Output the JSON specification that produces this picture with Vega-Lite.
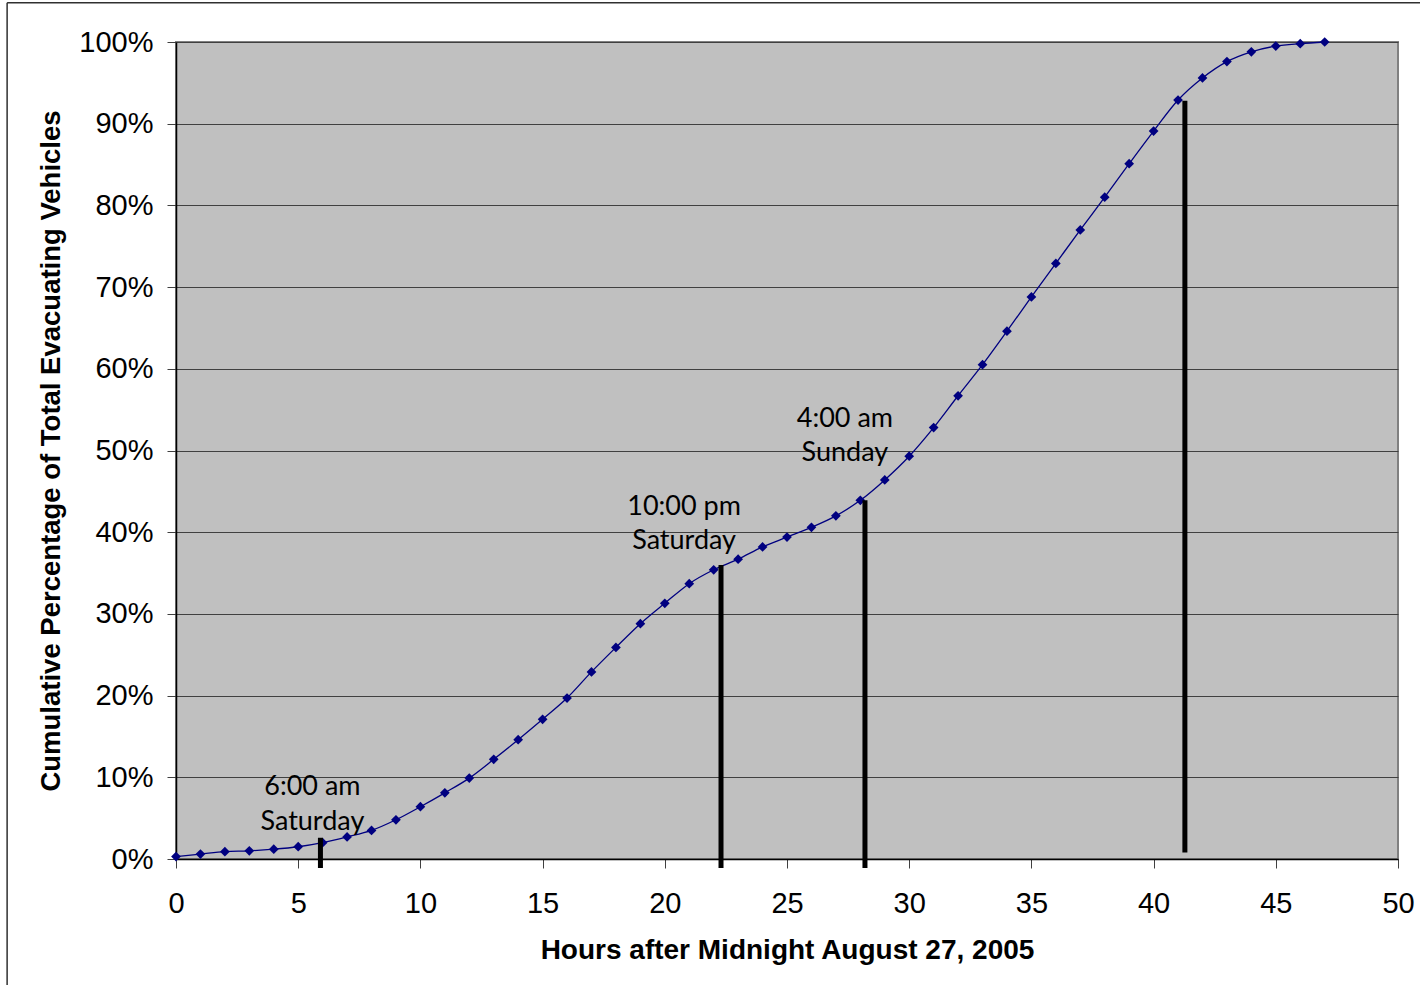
{
  "$schema": "https://vega.github.io/schema/vega-lite/v6.json",
  "autosize": "none",
  "width": 1222,
  "height": 817,
  "padding": {"left": 176, "top": 42, "right": 22, "bottom": 126},
  "background": "white",
  "config": {
    "view": {"fill": "#C0C0C0", "stroke": "#808080", "strokeWidth": 2},
    "axis": {
      "labelFont": "Liberation Sans",
      "titleFont": "Liberation Sans",
      "labelFontSize": 29,
      "titleFontSize": 28,
      "titleFontWeight": "bold",
      "labelColor": "black",
      "titleColor": "black",
      "domainColor": "black",
      "domainWidth": 1.5,
      "tickColor": "#404040",
      "tickWidth": 1,
      "tickSize": 9
    }
  },
  "datasets": {
    "evac": [
      {"hour": 0, "share": 0.003}, {"hour": 1, "share": 0.006}, {"hour": 2, "share": 0.009},
      {"hour": 3, "share": 0.010}, {"hour": 4, "share": 0.012}, {"hour": 5, "share": 0.015},
      {"hour": 6, "share": 0.020}, {"hour": 7, "share": 0.027}, {"hour": 8, "share": 0.035},
      {"hour": 9, "share": 0.048}, {"hour": 10, "share": 0.064}, {"hour": 11, "share": 0.081},
      {"hour": 12, "share": 0.099}, {"hour": 13, "share": 0.122}, {"hour": 14, "share": 0.146},
      {"hour": 15, "share": 0.171}, {"hour": 16, "share": 0.197}, {"hour": 17, "share": 0.229},
      {"hour": 18, "share": 0.259}, {"hour": 19, "share": 0.288}, {"hour": 20, "share": 0.313},
      {"hour": 21, "share": 0.337}, {"hour": 22, "share": 0.354}, {"hour": 23, "share": 0.367},
      {"hour": 24, "share": 0.382}, {"hour": 25, "share": 0.394}, {"hour": 26, "share": 0.406},
      {"hour": 27, "share": 0.420}, {"hour": 28, "share": 0.439}, {"hour": 29, "share": 0.464},
      {"hour": 30, "share": 0.493}, {"hour": 31, "share": 0.528}, {"hour": 32, "share": 0.567},
      {"hour": 33, "share": 0.605}, {"hour": 34, "share": 0.646}, {"hour": 35, "share": 0.688},
      {"hour": 36, "share": 0.729}, {"hour": 37, "share": 0.770}, {"hour": 38, "share": 0.810},
      {"hour": 39, "share": 0.851}, {"hour": 40, "share": 0.891}, {"hour": 41, "share": 0.929},
      {"hour": 42, "share": 0.956}, {"hour": 43, "share": 0.976}, {"hour": 44, "share": 0.988},
      {"hour": 45, "share": 0.995}, {"hour": 46, "share": 0.998}, {"hour": 47, "share": 1.000}
    ],
    "markers": [
      {"hour": 5.91, "from": -0.011, "to": 0.026},
      {"hour": 22.30, "from": -0.011, "to": 0.360},
      {"hour": 28.19, "from": -0.011, "to": 0.439},
      {"hour": 41.28, "from": 0.008, "to": 0.928}
    ],
    "notes": [
      {"hour": 5.58, "share": 0.0783, "text": "6:00 am"},
      {"hour": 5.58, "share": 0.0361, "text": "Saturday"},
      {"hour": 20.79, "share": 0.421, "text": "10:00 pm"},
      {"hour": 20.79, "share": 0.379, "text": "Saturday"},
      {"hour": 27.37, "share": 0.529, "text": "4:00 am"},
      {"hour": 27.37, "share": 0.487, "text": "Sunday"}
    ]
  },
  "layer": [
    {
      "data": {"name": "evac"},
      "mark": {"type": "line", "color": "#000080", "strokeWidth": 1.3, "interpolate": "monotone"},
      "encoding": {
        "x": {
          "field": "hour", "type": "quantitative",
          "scale": {"domain": [0, 50], "nice": false, "zero": false},
          "axis": {
            "values": [0, 5, 10, 15, 20, 25, 30, 35, 40, 45, 50],
            "grid": false,
            "labelPadding": 21,
            "labelFlush": false,
            "title": "Hours after Midnight August 27, 2005",
            "titlePadding": 18
          }
        },
        "y": {
          "field": "share", "type": "quantitative",
          "scale": {"domain": [0, 1], "nice": false},
          "axis": {
            "values": [0, 0.1, 0.2, 0.3, 0.4, 0.5, 0.6, 0.7, 0.8, 0.9, 1],
            "format": ".0%",
            "grid": true,
            "gridColor": "#404040",
            "gridWidth": 1.2,
            "gridOpacity": 1,
            "labelPadding": 14,
            "labelFlush": false,
            "title": "Cumulative Percentage of Total Evacuating Vehicles",
            "titleFontSize": 27.5,
            "titlePadding": 13
          }
        }
      }
    },
    {
      "data": {"name": "evac"},
      "mark": {"type": "point", "shape": "diamond", "filled": true, "color": "#000080", "size": 95, "opacity": 1},
      "encoding": {
        "x": {"field": "hour", "type": "quantitative"},
        "y": {"field": "share", "type": "quantitative"}
      }
    },
    {
      "data": {"name": "markers"},
      "mark": {"type": "rule", "color": "black", "strokeWidth": 5, "clip": false},
      "encoding": {
        "x": {"field": "hour", "type": "quantitative"},
        "y": {"field": "from", "type": "quantitative"},
        "y2": {"field": "to"}
      }
    },
    {
      "data": {"name": "notes"},
      "mark": {"type": "text", "font": "Lato", "fontSize": 27, "color": "black", "align": "center", "baseline": "alphabetic"},
      "encoding": {
        "x": {"field": "hour", "type": "quantitative"},
        "y": {"field": "share", "type": "quantitative"},
        "text": {"field": "text"}
      }
    },
    {
      "data": {"values": [{}]},
      "mark": {"type": "rule", "color": "#303030", "strokeWidth": 1.5, "clip": false},
      "encoding": {
        "x": {"datum": -6.91, "type": "quantitative"},
        "y": {"datum": 1.048, "type": "quantitative"},
        "y2": {"datum": -0.16}
      }
    },
    {
      "data": {"values": [{}]},
      "mark": {"type": "rule", "color": "#303030", "strokeWidth": 1.5, "clip": false},
      "encoding": {
        "x": {"datum": -6.91, "type": "quantitative"},
        "x2": {"datum": 51},
        "y": {"datum": 1.048, "type": "quantitative"}
      }
    }
  ]
}
